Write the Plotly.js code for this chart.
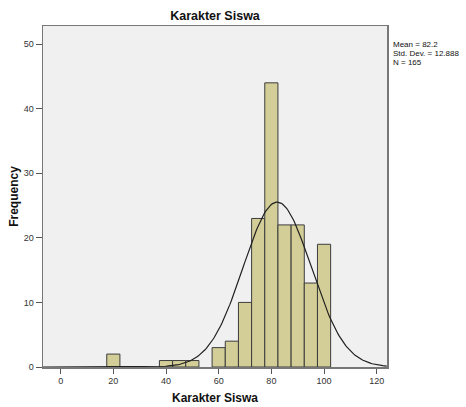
<!DOCTYPE html>
<html><head><meta charset="utf-8">
<script src="https://cdn.plot.ly/plotly-3.0.1.min.js"></script>
<style>body{margin:0;padding:0;background:#fff}#c{width:466px;height:407px}</style>
</head><body><div id="c"></div>
<script>
const binCenters = [20, 40, 45, 50, 60, 65, 70, 75, 80, 85, 90, 95, 100];
const counts = [2, 1, 1, 1, 3, 4, 10, 23, 44, 22, 22, 13, 19];
const binWidth = 5;
const meanVal = 82.2, sdVal = 12.888, nVal = 165;
const statLines = ['Mean = 82.2', 'Std. Dev. = 12.888', 'N = 165'];
const xTicks = [0, 20, 40, 60, 80, 100, 120];
const yTicks = [0, 10, 20, 30, 40, 50];

const cx = [], cy = [];
for (let x = -6.7; x <= 124; x += 0.5) {
  cx.push(x);
  cy.push(nVal * binWidth / (sdVal * Math.sqrt(2 * Math.PI)) * Math.exp(-0.5 * Math.pow((x - meanVal) / sdVal, 2)));
}

const data = [
  {type: 'bar', x: binCenters, y: counts, width: binWidth,
   marker: {color: '#d3ce97', line: {color: '#3c3c3c', width: 1}}, hoverinfo: 'x+y'},
  {type: 'scatter', mode: 'lines', x: cx, y: cy, line: {color: '#202020', width: 1.2}, hoverinfo: 'skip'}
];
const font = 'Liberation Sans, Arial, sans-serif';
const annY = [0.947, 0.9205, 0.894];
const layout = {
  width: 466, height: 407,
  margin: {l: 43, r: 79, t: 26, b: 40},
  paper_bgcolor: '#ffffff', plot_bgcolor: '#f0f0f0',
  showlegend: false, bargap: 0,
  font: {family: font, size: 9, color: '#222'},
  title: {text: '<b>Karakter Siswa</b>', font: {family: font, size: 12.5, color: '#111'}, x: 0.5, xref: 'paper', y: 0.961, yanchor: 'middle'},
  xaxis: {range: [-6.7, 123.9], tickvals: xTicks, ticks: 'outside', ticklen: 5, tickcolor: '#555',
    showgrid: false, zeroline: false, showline: true, linecolor: '#777', linewidth: 1.5, mirror: true,
    title: {text: '<b>Karakter Siswa</b>', font: {family: font, size: 12, color: '#111'}, standoff: 8},
    tickfont: {size: 9, color: '#333'}},
  yaxis: {range: [0, 52.8], tickvals: yTicks, ticks: 'outside', ticklen: 6, tickcolor: '#555',
    showgrid: false, zeroline: false, showline: true, linecolor: '#777', linewidth: 1.5, mirror: true,
    title: {text: '<b>Frequency</b>', font: {family: font, size: 12, color: '#111'}, standoff: 2},
    tickfont: {size: 9, color: '#333'}},
  annotations: statLines.map((t, i) => ({
    xref: 'paper', yref: 'paper', x: 1.013, y: annY[i], xanchor: 'left', yanchor: 'middle', align: 'left',
    showarrow: false, text: t, font: {family: font, size: 8, color: '#111'}
  }))
};
Plotly.newPlot('c', data, layout, {displayModeBar: false, staticPlot: true});
</script></body></html>
